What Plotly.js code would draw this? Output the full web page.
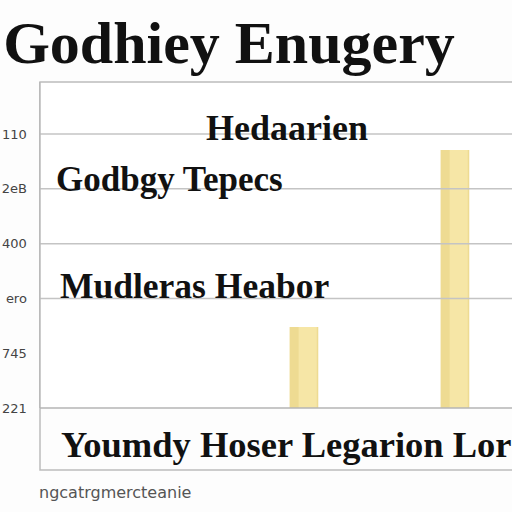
<!DOCTYPE html>
<html><head><meta charset="utf-8">
<script src="https://cdn.plot.ly/plotly-3.0.1.min.js"></script>
<style>html,body{margin:0;padding:0;background:#fdfdfd;}#c{width:512px;height:512px;}</style>
</head><body><div id="c"></div>
<script>
const categories = ["Youmdy", "Hoser", "Legarion", "Lor"];
const values = [null, null, 1.48, 4.71];
const tickVals = [0, 1, 2, 3, 4, 5];
const tickText = ["221", "745", "ero", "400", "2eB", "110"];
const gridVals = [2, 3, 4, 5];
const titleText = "Godhiey Enugery";
const labels = ["Hedaarien", "Godbgy Tepecs", "Mudleras Heabor", "Youmdy Hoser Legarion Lor"];
const footer = "ngcatrgmercteanie";

const L = 40, T = 82, B = 408, R = 512;
const px = x => (x - L) / (R - L);
const py = y => (B - y) / (B - T);
const serif = "Liberation Serif, Times New Roman, serif";

const shapes = gridVals.map(v => ({type:'line', xref:'paper', yref:'y', x0:0, x1:1, y0:v, y1:v,
  line:{color:'#c4c4c4', width:1.5}}));
shapes.push({type:'rect', xref:'paper', yref:'paper', x0:0, x1:1.02, y0:py(470), y1:1,
  line:{color:'#bcbcbc', width:1.5}, fillcolor:'rgba(0,0,0,0)'});
shapes.push({type:'line', xref:'paper', yref:'paper', x0:0, x1:1.02, y0:0, y1:0,
  line:{color:'#b4b4b4', width:1.5}});

const ann = [
  {text:labels[0], x:px(287), y:py(128), size:36},
  {text:labels[1], x:px(169), y:py(179), size:35},
  {text:labels[2], x:px(194), y:py(286), size:35.5},
  {text:labels[3], x:px(286), y:py(444), size:36.5},
].map(a => ({text:a.text, x:a.x, y:a.y, xref:'paper', yref:'paper', xanchor:'center', yanchor:'middle',
  showarrow:false, font:{family:serif, size:a.size, color:'#111', weight:'bold'}}));
ann.push({text:footer, x:px(37), y:py(492), xref:'paper', yref:'paper', xanchor:'left', yanchor:'middle',
  showarrow:false, font:{family:'DejaVu Sans, sans-serif', size:16, color:'#555'}});

Plotly.newPlot('c', [
  {type:'bar', x:categories, y:values, width:0.19,
   marker:{color:'#eedb92', line:{width:0}}},
  {type:'bar', x:categories, y:values, width:0.12, offset:-0.035,
   marker:{color:'#f6e6a6', line:{width:0}}}
], {
  width:512, height:512, barmode:'overlay',
  margin:{l:L, r:0, t:T, b:512-B, pad:0},
  paper_bgcolor:'#fdfdfd', plot_bgcolor:'#ffffff',
  title:{text:titleText, x:229/512, xanchor:'center', y:1-42/512, yanchor:'middle', xref:'container', yref:'container',
    font:{family:serif, size:60, color:'#111', weight:'bold'}},
  xaxis:{type:'category', range:[0.252, 3.378], showticklabels:false, showgrid:false, zeroline:false, showline:false, ticks:''},
  yaxis:{range:[0, 5.95], tickvals:tickVals, ticktext:tickText, showgrid:false, zeroline:false,
    showline:true, linecolor:'#b4b4b4', linewidth:1.5, ticks:'', ticklabelstandoff:9,
    tickfont:{family:'DejaVu Sans, sans-serif', size:13, color:'#444'}},
  shapes:shapes, annotations:ann, showlegend:false
}, {displayModeBar:false, staticPlot:true});
</script></body></html>
